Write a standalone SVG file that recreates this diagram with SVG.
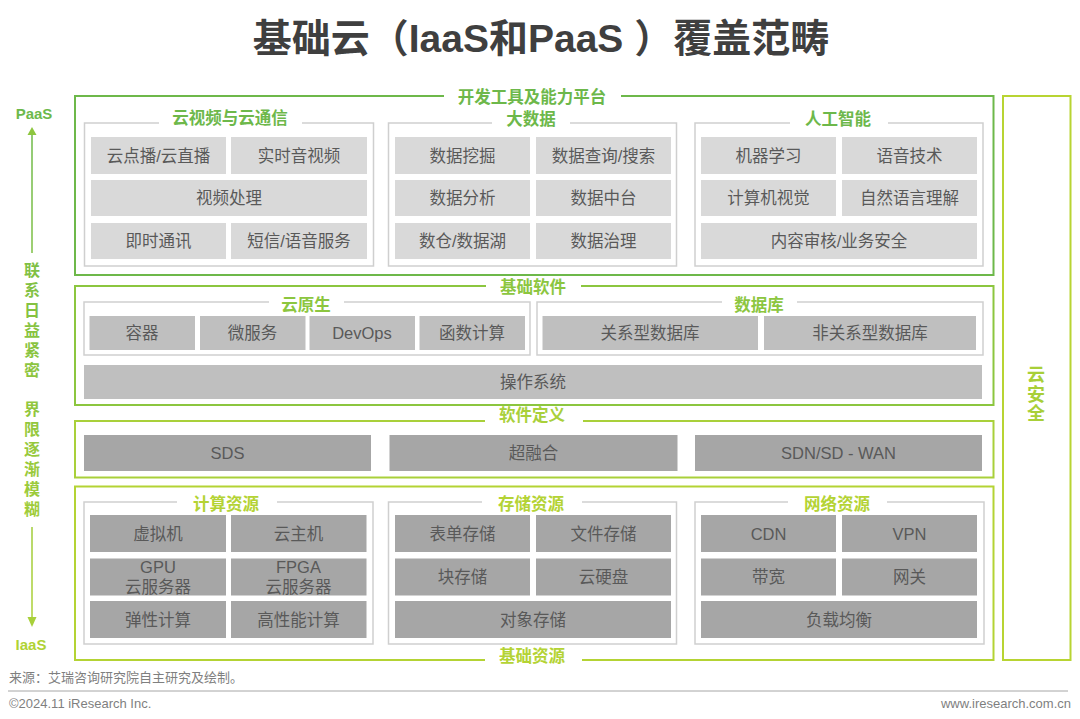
<svg xmlns="http://www.w3.org/2000/svg" width="1080" height="719" viewBox="0 0 1080 719">
<defs>
<style>
.title{font-family:"Liberation Sans","Noto Sans CJK SC",sans-serif;font-size:39px;font-weight:bold;fill:#3f3f3f}
.cell text{font-family:"Liberation Sans","Noto Sans CJK SC",sans-serif;font-size:16.5px;fill:#595959;text-anchor:middle;dominant-baseline:central}
.hd{font-family:"Liberation Sans","Noto Sans CJK SC",sans-serif;font-size:16.5px;font-weight:bold;text-anchor:middle;dominant-baseline:central}
.sub{fill:#ffffff;stroke:#cfcfcf;stroke-width:1.5}
.c1{fill:#d9d9d9}
.c2{fill:#bfbfbf}
.c3{fill:#a6a6a6}
.gap{fill:#ffffff}
.foot{font-family:"Liberation Sans","Noto Sans CJK SC",sans-serif;font-size:13px;fill:#7f7f7f;dominant-baseline:central}
</style>
<linearGradient id="axisg" gradientUnits="userSpaceOnUse" x1="0" y1="100" x2="0" y2="650">
<stop offset="0" stop-color="#6ab84a"/>
<stop offset="1" stop-color="#b0d235"/>
</linearGradient>
</defs>
<rect width="1080" height="719" fill="#ffffff"/>

<text class="title" x="541" y="38" text-anchor="middle" dominant-baseline="central">基础云（IaaS和PaaS ）覆盖范畴</text>

<g id="axis">
<text class="hd" x="34" y="113" fill="url(#axisg)" style="font-size:15px">PaaS</text>
<line x1="32" y1="134" x2="32" y2="253" stroke="url(#axisg)" stroke-width="1.5"/>
<polygon points="32,127 27.5,135 36.5,135" fill="#8dc63f"/>
<g class="hd" fill="url(#axisg)" style="font-size:16px">
<text x="32" y="270">联</text><text x="32" y="290">系</text><text x="32" y="310">日</text><text x="32" y="330">益</text><text x="32" y="350">紧</text><text x="32" y="370">密</text>
<text x="32" y="409">界</text><text x="32" y="429">限</text><text x="32" y="449">逐</text><text x="32" y="469">渐</text><text x="32" y="489">模</text><text x="32" y="509">糊</text>
</g>
<line x1="32" y1="527" x2="32" y2="619" stroke="url(#axisg)" stroke-width="1.5"/>
<polygon points="32,627 27.5,617 36.5,617" fill="#a8d03a"/>
<text class="hd" x="31" y="644" fill="url(#axisg)" style="font-size:15px">IaaS</text>
</g>

<g id="dev-platform">
<rect x="75" y="96" width="918.5" height="179" fill="none" stroke="#6db84a" stroke-width="2"/>
<rect class="gap" x="444" y="88" width="177" height="16"/>
<text class="hd" x="532" y="97" fill="#6db84a">开发工具及能力平台</text>

<g id="cloud-video">
<rect class="sub" x="84.5" y="123" width="289" height="143"/>
<rect class="gap" x="159" y="115" width="143" height="14"/>
<text class="hd" x="230" y="118" fill="#6db84a">云视频与云通信</text>
<g class="cell">
<rect class="c1" x="91" y="137" width="135" height="37"/><text x="158.5" y="155.5">云点播/云直播</text>
<rect class="c1" x="231" y="137" width="136" height="37"/><text x="299" y="155.5">实时音视频</text>
<rect class="c1" x="91" y="180" width="276" height="36"/><text x="229" y="198">视频处理</text>
<rect class="c1" x="91" y="223" width="135" height="36"/><text x="158.5" y="241">即时通讯</text>
<rect class="c1" x="231" y="223" width="136" height="36"/><text x="299" y="241">短信/语音服务</text>
</g>
</g>

<g id="big-data">
<rect class="sub" x="388.5" y="123" width="288" height="143"/>
<rect class="gap" x="492" y="115" width="78" height="14"/>
<text class="hd" x="531" y="119" fill="#6db84a">大数据</text>
<g class="cell">
<rect class="c1" x="395" y="137" width="135" height="37"/><text x="462.5" y="155.5">数据挖掘</text>
<rect class="c1" x="536" y="137" width="135" height="37"/><text x="603.5" y="155.5">数据查询/搜索</text>
<rect class="c1" x="395" y="180" width="135" height="36"/><text x="462.5" y="198">数据分析</text>
<rect class="c1" x="536" y="180" width="135" height="36"/><text x="603.5" y="198">数据中台</text>
<rect class="c1" x="395" y="223" width="135" height="36"/><text x="462.5" y="241">数仓/数据湖</text>
<rect class="c1" x="536" y="223" width="135" height="36"/><text x="603.5" y="241">数据治理</text>
</g>
</g>

<g id="ai">
<rect class="sub" x="695" y="123" width="288" height="143"/>
<rect class="gap" x="790" y="115" width="98" height="14"/>
<text class="hd" x="838" y="119" fill="#6db84a">人工智能</text>
<g class="cell">
<rect class="c1" x="701" y="137" width="135" height="37"/><text x="768.5" y="155.5">机器学习</text>
<rect class="c1" x="842" y="137" width="135" height="37"/><text x="909.5" y="155.5">语音技术</text>
<rect class="c1" x="701" y="180" width="135" height="36"/><text x="768.5" y="198">计算机视觉</text>
<rect class="c1" x="842" y="180" width="135" height="36"/><text x="909.5" y="198">自然语言理解</text>
<rect class="c1" x="701" y="223" width="276" height="36"/><text x="839" y="241">内容审核/业务安全</text>
</g>
</g>
</g>

<g id="base-software">
<rect x="75" y="286" width="918.5" height="119" fill="none" stroke="#8cc63f" stroke-width="2"/>
<rect class="gap" x="486" y="279" width="95" height="14"/>
<text class="hd" x="533" y="287" fill="#8cc63f">基础软件</text>

<g id="cloud-native">
<rect class="sub" x="84" y="302" width="446" height="53"/>
<rect class="gap" x="269" y="296" width="75" height="12"/>
<text class="hd" x="306" y="305" fill="#8cc63f">云原生</text>
<g class="cell">
<rect class="c2" x="89.5" y="316" width="105.5" height="34"/><text x="142" y="333">容器</text>
<rect class="c2" x="200" y="316" width="105.5" height="34"/><text x="252.5" y="333">微服务</text>
<rect class="c2" x="309.5" y="316" width="105.5" height="34"/><text x="362" y="333">DevOps</text>
<rect class="c2" x="419.5" y="316" width="105.5" height="34"/><text x="472" y="333">函数计算</text>
</g>
</g>

<g id="database">
<rect class="sub" x="537" y="302" width="446" height="53"/>
<rect class="gap" x="722" y="296" width="75" height="12"/>
<text class="hd" x="759" y="305" fill="#8cc63f">数据库</text>
<g class="cell">
<rect class="c2" x="542.5" y="316" width="215.5" height="34"/><text x="650" y="333">关系型数据库</text>
<rect class="c2" x="764" y="316" width="212" height="34"/><text x="870" y="333">非关系型数据库</text>
</g>
</g>

<g id="os" class="cell">
<rect class="c2" x="84" y="365" width="898" height="34"/><text x="533" y="382">操作系统</text>
</g>
</g>

<g id="software-defined">
<rect x="75" y="421" width="918.5" height="56.5" fill="none" stroke="#a9d03a" stroke-width="2"/>
<rect class="gap" x="485" y="407" width="98" height="18"/>
<text class="hd" x="532" y="415" fill="#a9d03a">软件定义</text>
<g class="cell">
<rect class="c3" x="84" y="435" width="287" height="36"/><text x="227.5" y="453">SDS</text>
<rect class="c3" x="389.5" y="435" width="288" height="36"/><text x="533.5" y="453">超融合</text>
<rect class="c3" x="695" y="435" width="287" height="36"/><text x="838.5" y="453">SDN/SD - WAN</text>
</g>
</g>

<g id="base-resources">
<rect x="75" y="486.5" width="918.5" height="173.5" fill="none" stroke="#b4d334" stroke-width="2"/>
<rect class="gap" x="485" y="648" width="97" height="18"/>
<text class="hd" x="532" y="656" fill="#b4d334">基础资源</text>

<g id="compute">
<rect class="sub" x="84" y="502" width="289" height="142"/>
<rect class="gap" x="177" y="496" width="100" height="14"/>
<text class="hd" x="226" y="504" fill="#b4d334">计算资源</text>
<g class="cell">
<rect class="c3" x="90" y="515" width="136" height="37"/><text x="158" y="533.5">虚拟机</text>
<rect class="c3" x="231" y="515" width="135.5" height="37"/><text x="298.5" y="533.5">云主机</text>
<rect class="c3" x="90" y="558.5" width="136" height="37"/><text x="158" y="567">GPU</text><text x="158" y="587">云服务器</text>
<rect class="c3" x="231" y="558.5" width="135.5" height="37"/><text x="298.5" y="567">FPGA</text><text x="298.5" y="587">云服务器</text>
<rect class="c3" x="90" y="601" width="136" height="37"/><text x="158" y="619.5">弹性计算</text>
<rect class="c3" x="231" y="601" width="135.5" height="37"/><text x="298.5" y="619.5">高性能计算</text>
</g>
</g>

<g id="storage">
<rect class="sub" x="388.5" y="502" width="288" height="142"/>
<rect class="gap" x="482" y="496" width="100" height="14"/>
<text class="hd" x="531" y="504" fill="#b4d334">存储资源</text>
<g class="cell">
<rect class="c3" x="395" y="515" width="135" height="37"/><text x="462.5" y="533.5">表单存储</text>
<rect class="c3" x="536" y="515" width="135" height="37"/><text x="603.5" y="533.5">文件存储</text>
<rect class="c3" x="395" y="558.5" width="135" height="37"/><text x="462.5" y="577">块存储</text>
<rect class="c3" x="536" y="558.5" width="135" height="37"/><text x="603.5" y="577">云硬盘</text>
<rect class="c3" x="395" y="601" width="276" height="37"/><text x="533" y="619.5">对象存储</text>
</g>
</g>

<g id="network">
<rect class="sub" x="695" y="502" width="289" height="142"/>
<rect class="gap" x="788" y="496" width="99" height="14"/>
<text class="hd" x="837" y="504" fill="#b4d334">网络资源</text>
<g class="cell">
<rect class="c3" x="701" y="515" width="135" height="37"/><text x="768.5" y="533.5">CDN</text>
<rect class="c3" x="842" y="515" width="135" height="37"/><text x="909.5" y="533.5">VPN</text>
<rect class="c3" x="701" y="558.5" width="135" height="37"/><text x="768.5" y="577">带宽</text>
<rect class="c3" x="842" y="558.5" width="135" height="37"/><text x="909.5" y="577">网关</text>
<rect class="c3" x="701" y="601" width="276" height="37"/><text x="839" y="619.5">负载均衡</text>
</g>
</g>
</g>

<g id="cloud-security">
<rect x="1003" y="96" width="67.5" height="564" fill="none" stroke="#b8d432" stroke-width="2"/>
<g class="hd" fill="#a8cf38" style="font-size:18px">
<text x="1036" y="375">云</text><text x="1036" y="395">安</text><text x="1036" y="414">全</text>
</g>
</g>

<g id="footer">
<text class="foot" x="9" y="677">来源：艾瑞咨询研究院自主研究及绘制。</text>
<line x1="8" y1="691" x2="1068" y2="691" stroke="#a6a6a6" stroke-width="1"/>
<text class="foot" x="9" y="703">©2024.11 iResearch Inc.</text>
<text class="foot" x="1071" y="703" text-anchor="end">www.iresearch.com.cn</text>
</g>
</svg>
